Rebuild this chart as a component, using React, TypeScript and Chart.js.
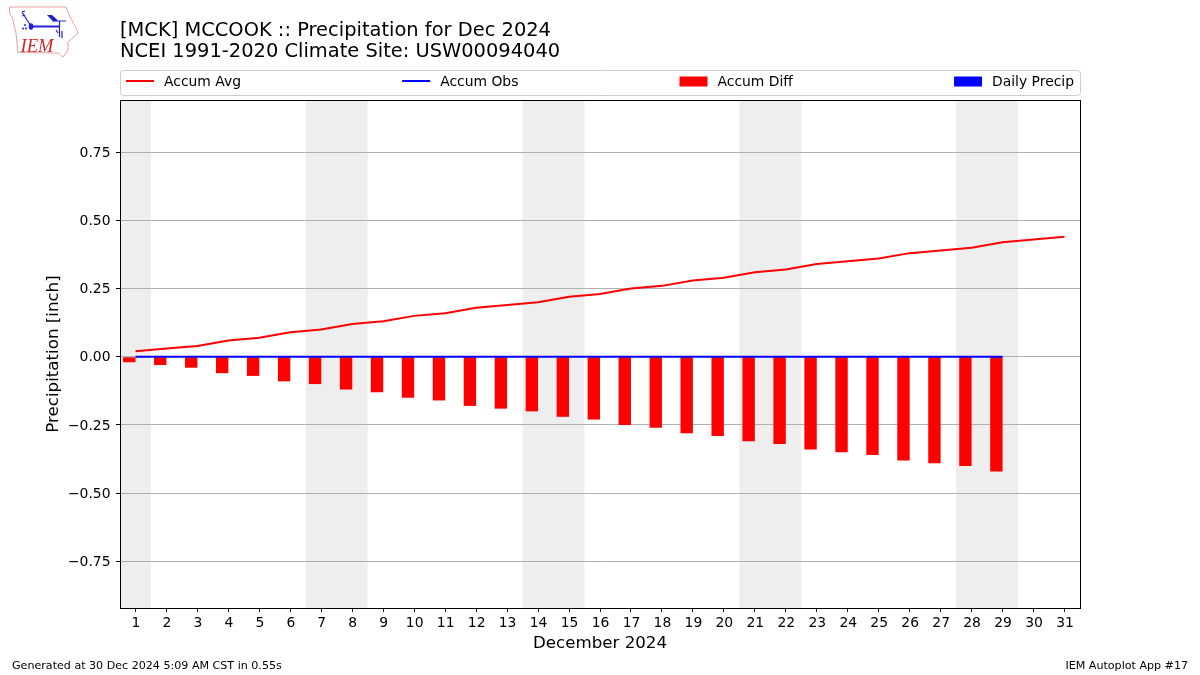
import React, { useEffect, useRef } from "react";
import { Chart, registerables } from "chart.js";

Chart.register(...registerables);

const days = Array.from({ length: 31 }, (_, i) => String(i + 1));
const accumAvg = [0.02, 0.03, 0.04, 0.06, 0.07, 0.09, 0.1, 0.12, 0.13, 0.15, 0.16, 0.18, 0.19, 0.2, 0.22, 0.23, 0.25, 0.26, 0.28, 0.29, 0.31, 0.32, 0.34, 0.35, 0.36, 0.38, 0.39, 0.4, 0.42, 0.43, 0.44];
const accumObs = [0, 0, 0, 0, 0, 0, 0, 0, 0, 0, 0, 0, 0, 0, 0, 0, 0, 0, 0, 0, 0, 0, 0, 0, 0, 0, 0, 0, 0];
const accumDiff = [-0.02, -0.03, -0.04, -0.06, -0.07, -0.09, -0.1, -0.12, -0.13, -0.15, -0.16, -0.18, -0.19, -0.2, -0.22, -0.23, -0.25, -0.26, -0.28, -0.29, -0.31, -0.32, -0.34, -0.35, -0.36, -0.38, -0.39, -0.4, -0.42];
const dailyPrecip = [0, 0, 0, 0, 0, 0, 0, 0, 0, 0, 0, 0, 0, 0, 0, 0, 0, 0, 0, 0, 0, 0, 0, 0, 0, 0, 0, 0, 0];
const weekendSpans = [[1, 1], [7, 8], [14, 15], [21, 22], [28, 29]];
const titleLines = ["[MCK] MCCOOK :: Precipitation for Dec 2024", "NCEI 1991-2020 Climate Site: USW00094040"];
const footerLeft = "Generated at 30 Dec 2024 5:09 AM CST in 0.55s";
const footerRight = "IEM Autoplot App #17";
const FONT = "'DejaVu Sans'";

const decorPlugin = {
  id: "decor",
  beforeDraw(chart: any) {
    const { ctx, chartArea: a, scales } = chart;
    const step = scales.x.getPixelForValue(1) - scales.x.getPixelForValue(0);
    ctx.save();
    ctx.fillStyle = "#eeeeee";
    weekendSpans.forEach(([s, e]) => {
      const x0 = scales.x.getPixelForValue(s - 1) - step / 2;
      const x1 = scales.x.getPixelForValue(e - 1) + step / 2;
      ctx.fillRect(x0, a.top, x1 - x0, a.bottom - a.top);
    });
    ctx.restore();
  },
  afterDraw(chart: any) {
    const { ctx, chartArea: a, data } = chart;
    ctx.save();
    // frame
    ctx.strokeStyle = "#000";
    ctx.lineWidth = 1;
    ctx.strokeRect(a.left + 0.5, a.top + 0.5, a.right - a.left, a.bottom - a.top);

    // legend
    const top = 70, h = 25, left = a.left, right = a.right;
    ctx.strokeStyle = "#cccccc";
    ctx.beginPath();
    ctx.roundRect(left + 0.5, top + 0.5, right - left, h, 3);
    ctx.stroke();
    ctx.font = `13.9px ${FONT}`;
    ctx.textBaseline = "middle";
    ctx.textAlign = "left";
    const order = [0, 1, 2, 3];
    const labels = order.map((i) => data.datasets[i].label);
    const widths = labels.map((t: string) => 28 + 10 + ctx.measureText(t).width);
    const total = widths.reduce((p: number, c: number) => p + c, 0);
    const gap = (right - left - 12 - total) / 3;
    let x = left + 6;
    const cy = top + 11.5;
    order.forEach((i, k) => {
      const ds = data.datasets[i];
      if (ds.type === "line") {
        ctx.strokeStyle = ds.borderColor;
        ctx.lineWidth = 2;
        ctx.beginPath();
        ctx.moveTo(x, cy - 0.5);
        ctx.lineTo(x + 28, cy - 0.5);
        ctx.stroke();
      } else {
        ctx.fillStyle = ds.backgroundColor;
        ctx.fillRect(x, cy - 5, 28, 10);
      }
      ctx.fillStyle = "#000";
      ctx.fillText(labels[k], x + 38, cy + 1);
      x += widths[k] + gap;
    });

    // footer
    ctx.font = `11.1px ${FONT}`;
    ctx.fillStyle = "#000";
    ctx.textAlign = "left";
    ctx.fillText(footerLeft, 12, 666.5);
    ctx.textAlign = "right";
    ctx.fillText(footerRight, 1188, 666.5);
    ctx.restore();
  },
};

function Logo() {
  return (
    <svg width={90} height={62} style={{ position: "absolute", left: 0, top: 0 }}>
      <path d="M9.5 7 L66 7 L70 17 L76 28 L78 33 L68 42 L68 50 L63 57 L58 53 L18 52.5 L16 33 L12.5 18 L9.5 13 Z" fill="none" stroke="#e8a0a0" strokeWidth={1} />
      <path d="M31 26.5 L60 26.5" fill="none" stroke="#2222cc" strokeWidth={2} />
      <path d="M59.5 21 L59.5 37 M53 21 L66 21 M22 12 L27 20 L31 26 M22 12 L25 11 M22 16 L25 15 M62 31 L62 38 M56 30 L58 33" fill="none" stroke="#2222cc" strokeWidth={1.2} />
      <path d="M47 15 L52 15 L58 20.5 L53 21.5 Z" fill="#2222cc" />
      <ellipse cx={31} cy={26.5} rx={2.3} ry={3.2} fill="#2222cc" />
      <circle cx={25} cy={25} r={1} fill="#2222cc" />
      <circle cx={23} cy={28.5} r={1} fill="#2222cc" />
      <circle cx={26} cy={28.5} r={1} fill="#2222cc" />
      <text x={20.5} y={52} fontFamily="'Liberation Serif'" fontStyle="italic" fontSize={18.5} fill="#cc2b2b">IEM</text>
    </svg>
  );
}

export default function App() {
  const ref = useRef<HTMLCanvasElement>(null);
  useEffect(() => {
    const chart = new Chart(ref.current!, {
      type: "bar",
      data: {
        labels: days,
        datasets: [
          { type: "line", label: "Accum Avg", data: accumAvg, borderColor: "#ff0000", backgroundColor: "#ff0000", borderWidth: 2, pointRadius: 0, order: 1 },
          { type: "line", label: "Accum Obs", data: accumObs, borderColor: "#0000ff", backgroundColor: "#0000ff", borderWidth: 2, pointRadius: 0, order: 0 },
          { type: "bar", label: "Accum Diff", data: accumDiff, backgroundColor: "#ff0000", barThickness: 12.4, inflateAmount: 0, order: 2 },
          { type: "bar", label: "Daily Precip", data: dailyPrecip, backgroundColor: "#0000ff", barThickness: 12.4, inflateAmount: 0, order: 3 },
        ],
      } as any,
      plugins: [decorPlugin],
      options: {
        responsive: false,
        animation: false,
        devicePixelRatio: 1,
        layout: { padding: { left: 0, right: 120, top: 0, bottom: 0 } },
        plugins: {
          legend: { display: false },
          tooltip: { enabled: false },
          title: {
            display: true,
            text: titleLines,
            align: "start",
            fullSize: false,
            color: "#000",
            font: { family: FONT, size: 19.45, weight: "normal", lineHeight: 1.09 },
            padding: { top: 20, bottom: 37.6 },
          },
        },
        scales: {
          x: {
            offset: true,
            afterFit: (s: any) => { s.height = 67; },
            grid: { display: true, drawOnChartArea: false, drawTicks: true, tickLength: 4, tickColor: "#000", offset: false },
            border: { display: true, color: "#000" },
            ticks: { color: "#000", font: { family: FONT, size: 13.9 }, maxRotation: 0, autoSkip: false, padding: 3, labelOffset: 0.5 },
            title: { display: true, text: "December 2024", color: "#000", font: { family: FONT, size: 16.67 }, padding: { top: 6, bottom: 21 } },
          },
          y: {
            min: -0.9208,
            max: 0.9413,
            afterFit: (s: any) => { s.width = 120; },
            grid: { color: "#b0b0b0", lineWidth: 1, drawTicks: true, tickLength: 4, tickColor: "#000" },
            border: { display: true, color: "#000" },
            ticks: {
              stepSize: 0.25,
              includeBounds: false,
              color: "#000",
              font: { family: FONT, size: 13.9 },
              padding: 5.5,
              labelOffset: 1,
              callback: (v: any) => Number(v).toFixed(2).replace("-", "\u2212"),
            },
            title: { display: true, text: "Precipitation [inch]", color: "#000", font: { family: FONT, size: 16.67 }, padding: { top: 44, bottom: 0 } },
          },
        },
      },
    } as any);
    return () => chart.destroy();
  }, []);
  return (
    <div style={{ position: "fixed", left: 0, top: 0, width: 1200, height: 675, background: "#fff" }}>
      <canvas ref={ref} width={1200} height={675} style={{ display: "block" }} />
      <Logo />
    </div>
  );
}
